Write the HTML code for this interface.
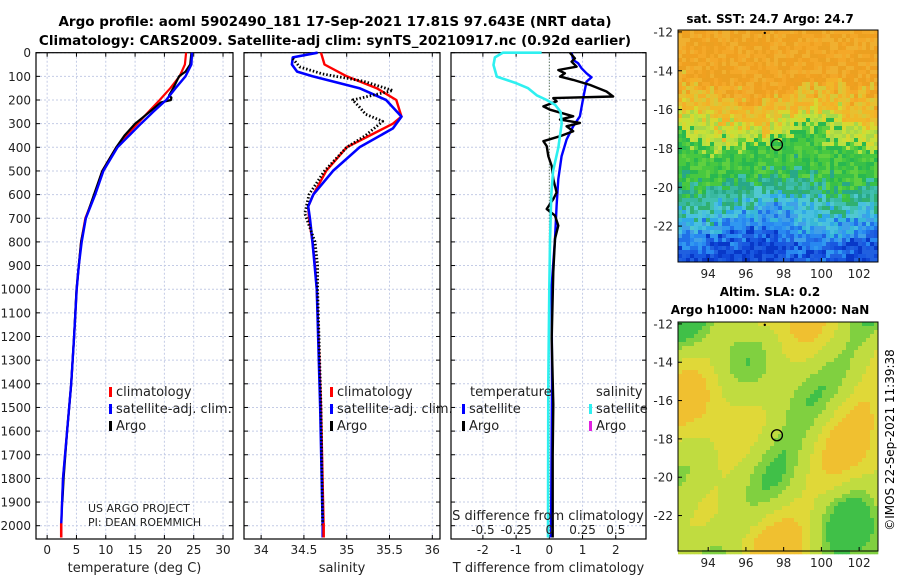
<!DOCTYPE html>
<html><head><meta charset="utf-8"><style>
body{margin:0;background:#fff;width:900px;height:580px;overflow:hidden}
svg{display:block;font-family:"DejaVu Sans","Liberation Sans",sans-serif}
</style></head><body>
<svg id="fig" width="900" height="580" viewBox="0 0 900 580" xmlns="http://www.w3.org/2000/svg">
<text x="335" y="26" text-anchor="middle" font-size="13.5" font-weight="bold">Argo profile: aoml 5902490_181 17-Sep-2021 17.81S 97.643E (NRT data)</text>
<text x="335" y="45" text-anchor="middle" font-size="13.5" font-weight="bold">Climatology: CARS2009. Satellite-adj clim: synTS_20210917.nc (0.92d earlier)</text>
<g id="maps"></g>
<g id="panels"></g>
<text x="770" y="23" text-anchor="middle" font-size="12" font-weight="bold">sat. SST: 24.7 Argo: 24.7</text>
<text x="770" y="296" text-anchor="middle" font-size="12" font-weight="bold">Altim. SLA: 0.2</text>
<text x="770" y="314" text-anchor="middle" font-size="12" font-weight="bold">Argo h1000: NaN h2000: NaN</text>
<text transform="translate(894,440) rotate(-90)" text-anchor="middle" font-size="12">©IMOS 22-Sep-2021 11:39:38</text>
</svg>
<script>
// ---- data ----
const tDepth = [0,50,100,150,200,250,300,350,400,500,600,700,800,900,1000,1200,1400,1600,1800,2000,2050];
const tClim  = [23.7,23.5,22.6,21.0,19.2,17.3,15.4,13.5,11.8,9.4,8.1,6.5,5.8,5.4,5.05,4.6,4.1,3.4,2.7,2.4,2.4];
const tSat   = [24.7,24.6,23.6,21.9,20.3,18.1,16.0,14.0,12.0,9.6,8.2,6.6,5.9,5.4,5.05,4.6,4.1,3.4,2.7,2.4,2.4];
const tArgoDepth = [0,50,80,100,150,180,190,200,210,250,300,350,400,500,600,700,800,900,1000,1200,1400,1600,1800,1900];
const tArgo = [24.6,24.4,23.6,22.5,21.5,20.8,21.2,21.1,19.4,17.5,15.0,13.2,11.8,9.4,8.0,6.6,5.8,5.4,5.0,4.6,4.1,3.4,2.8,2.6];
const sDepth = [0,50,100,150,200,270,300,350,400,500,600,650,700,800,900,1000,1500,2000,2050];
const sClim  = [34.70,34.74,35.0,35.35,35.58,35.64,35.54,35.27,35.0,34.76,34.61,34.55,34.56,34.60,34.63,34.65,34.70,34.73,34.73];
const sSatDepth = [0,20,50,80,100,150,200,270,320,400,500,600,650,700,800,1000,1500,2000,2050];
const sSat = [34.66,34.37,34.36,34.42,34.60,35.15,35.46,35.64,35.54,35.15,34.84,34.61,34.55,34.57,34.60,34.65,34.69,34.72,34.72];
const sArgoDepth = [25,60,90,120,160,200,230,260,290,350,400,500,600,680,800,900,1000,1500,2000];
const sArgo = [34.37,34.45,34.72,35.19,35.54,35.07,35.15,35.22,35.42,35.22,35.0,34.74,34.56,34.51,34.63,34.66,34.66,34.70,34.72];
const dTDepth = [0,24,38,59,73,87,101,115,136,164,185,192,206,227,241,269,283,297,311,332,353,374,395,437,479,535,591,619,661,689,731,787,927,1207,1487,1700,2050];
const dTArgo = [0.62,0.77,0.67,0.82,0.27,0.47,0.32,0.72,1.22,1.72,1.92,0.12,0.22,-0.18,0.02,0.72,0.32,0.92,0.52,0.72,0.32,-0.18,-0.08,-0.03,0.07,0.12,0.22,0.12,-0.08,0.17,0.27,0.17,0.12,0.07,0.12,0.10,0.10];
const dTSatDepth = [0,31,45,66,87,104,122,192,269,311,367,437,535,647,787,983,1400,2050];
const dTSat = [0.67,0.72,0.87,0.97,1.12,1.27,1.12,1.02,0.92,0.72,0.52,0.37,0.27,0.22,0.17,0.07,0.08,0.05];
const dSSatDepth = [0,0,20,52,101,130,150,180,200,220,250,300,350,400,500,600,800,1000,1400,2050];
const dSSat = [-0.058,-0.35,-0.41,-0.42,-0.395,-0.245,-0.16,-0.095,-0.02,0.043,0.085,0.093,0.08,0.068,0.028,0.015,0.005,0,-0.008,-0.01];
const depthTicks = [0,100,200,300,400,500,600,700,800,900,1000,1100,1200,1300,1400,1500,1600,1700,1800,1900,2000];
const tTicks = [0,5,10,15,20,25,30];
const sTicks = [34,34.5,35,35.5,36];
const dTTicks = [-2,-1,0,1,2];
const dSTickLabels = ["-0.5","-0.25","0","0.25","0.5"];
const dSTickVals = [-0.5,-0.25,0,0.25,0.5];
const lonTicks = [94,96,98,100,102];
const latTicks = [-12,-14,-16,-18,-20,-22];
const argoLon = 97.643, argoLat = -17.81;

const NS="http://www.w3.org/2000/svg";
function el(tag,attrs,parent,txt){const e=document.createElementNS(NS,tag);for(const k in attrs)e.setAttribute(k,attrs[k]);if(txt!==undefined)e.textContent=txt;parent.appendChild(e);return e;}
const panels=document.getElementById('panels');
const Y0=52.7, YS=0.2365, YB=539;
const yD=d=>Y0+d*YS;

function panel(name,x0,x1,xMin,xMax,ticks,labels,xlabel){
  const g=el('g',{},panels);
  
  
  const xs=v=>x0+(v-xMin)/(xMax-xMin)*(x1-x0);
  depthTicks.forEach(d=>{
    const l=el('line',{x1:x0,x2:x1,y1:yD(d),y2:yD(d),stroke:'#c4cce6','stroke-dasharray':'2,2','stroke-width':1},g);
    
    
    el('line',{x1:x0,x2:x0+4,y1:yD(d),y2:yD(d),stroke:'#000'},g);
    el('line',{x1:x1,x2:x1-4,y1:yD(d),y2:yD(d),stroke:'#000'},g);
  });
  ticks.forEach((v,i)=>{
    const l=el('line',{x1:xs(v),x2:xs(v),y1:Y0,y2:YB,stroke:'#c4cce6','stroke-dasharray':'2,2'},g);
    
    
    el('line',{x1:xs(v),x2:xs(v),y1:YB,y2:YB-4,stroke:'#000'},g);
    el('line',{x1:xs(v),x2:xs(v),y1:Y0,y2:Y0+4,stroke:'#000'},g);
    const t=el('text',{x:xs(v),y:554,'text-anchor':'middle','font-size':12,fill:'#222'},g,labels[i]);
    
    
  });
  const xl=el('text',{x:(x0+x1)/2,y:572,'text-anchor':'middle','font-size':13,fill:'#222'},g,xlabel);
  
  
  const fr=el('rect',{x:x0,y:Y0,width:x1-x0,height:YB-Y0,fill:'none',stroke:'#000','stroke-width':1.2},g);
  
  
  return {g,xs};
}
function line(p,depths,vals,color,w,dash,name,scale){
  const pts=depths.map((d,i)=>p.xs(vals[i]*(scale||1)).toFixed(1)+','+yD(d).toFixed(1)).join(' ');
  const l=el('polyline',{points:pts,fill:'none',stroke:color,'stroke-width':w,'stroke-linejoin':'round'},p.g);
  if(dash)l.setAttribute('stroke-dasharray',dash);
  
  
}
function legend(g,x,y,color,text,name){
  const m=el('rect',{x:x,y:y-9,width:3,height:10,fill:color},g);
  
  
  const t=el('text',{x:x+7,y:y,'font-size':13,fill:'#222'},g,text);
  
  
}

// panel 1
const p1=panel('temperature-panel',36,233,-1.9,31.7,tTicks,tTicks.map(String),'temperature (deg C)');
depthTicks.forEach(d=>{const t=el('text',{x:31,y:yD(d)+4.5,'text-anchor':'end','font-size':12,fill:'#222'},p1.g,String(d));

});
line(p1,tDepth,tClim,'#f00',2.2,null,'temperature-climatology-line');
line(p1,tArgoDepth,tArgo,'#000',2.2,null,'temperature-argo-line');
line(p1,tDepth,tSat,'#00f',2.4,null,'temperature-satellite-line');
line(p1,[1990,2050],[2.4,2.4],'#f00',2.5,null,'temperature-climatology-bottom');
legend(p1.g,109,396,'#f00','climatology','legend-climatology');
legend(p1.g,109,413,'#00f','satellite-adj. clim.','legend-satellite-adj');
legend(p1.g,109,430,'#000','Argo','legend-argo');
const c1=el('text',{x:88,y:512,'font-size':11,fill:'#222'},p1.g,'US ARGO PROJECT');


const c2=el('text',{x:88,y:526,'font-size':11,fill:'#222'},p1.g,'PI: DEAN ROEMMICH');



// panel 2
const p2=panel('salinity-panel',244,440,33.8,36.09,sTicks,sTicks.map(String),'salinity');
line(p2,sDepth,sClim,'#f00',2.4,null,'salinity-climatology-line');
line(p2,sSatDepth,sSat,'#00f',2.6,null,'salinity-satellite-line');
line(p2,sArgoDepth,sArgo,'#000',2.8,'1.5,2','salinity-argo-line');
line(p2,[1990,2050],[34.73,34.73],'#f00',2.5,null,'salinity-climatology-bottom');
legend(p2.g,330,396,'#f00','climatology','legend-climatology');
legend(p2.g,330,413,'#00f','satellite-adj. clim.','legend-satellite-adj');
legend(p2.g,330,430,'#000','Argo','legend-argo');

// panel 3
const p3=panel('difference-panel',451,646,-2.96,2.91,dTTicks,dTTicks.map(String),'T difference from climatology');
const zl=el('line',{x1:p3.xs(0),x2:p3.xs(0),y1:Y0,y2:YB,stroke:'#3a5a2a','stroke-dasharray':'1,2','stroke-width':1},p3.g);


line(p3,dTSatDepth,dTSat,'#00f',2.4,null,'t-diff-satellite-line');
line(p3,dTDepth,dTArgo,'#000',2.4,null,'t-diff-argo-line');
line(p3,dSSatDepth,dSSat,'#2ef0f0',2.6,null,'s-diff-satellite-line',4);
legend(p3.g,462,413,'#00f','satellite','legend-t-satellite');
legend(p3.g,462,430,'#000','Argo','legend-t-argo');
legend(p3.g,589,413,'#2ef0f0','satellite','legend-s-satellite');
legend(p3.g,589,430,'#e020e0','Argo','legend-s-argo');
const lt=el('text',{x:470,y:396,'font-size':13,fill:'#222'},p3.g,'temperature');


const ls=el('text',{x:596,y:396,'font-size':13,fill:'#222'},p3.g,'salinity');


const st=el('text',{x:548,y:520,'text-anchor':'middle','font-size':13,fill:'#222'},p3.g,'S difference from climatology');


dSTickVals.forEach((v,i)=>{const t=el('text',{x:p3.xs(v*4),y:534,'text-anchor':'middle','font-size':12,fill:'#222'},p3.g,dSTickLabels[i]);

});

// ---- maps ----
const maps=document.getElementById('maps');
function hash(i,j){let h=(i*374761393+j*668265263)^0x5bd1e995;h=(h^(h>>>13))*1274126177;return ((h^(h>>>16))>>>0)/4294967296;}
function mapBox(name,top,bottom,latTop,latBot,colorFn){
  const g=el('g',{},maps);
  
  
  const L=678,R=878,lonMin=92.4,lonMax=103;
  const xs=v=>L+(v-lonMin)/(lonMax-lonMin)*(R-L);
  const ys=v=>top+(latTop-v)/(latTop-latBot)*(bottom-top);
  const cs=4;
  for(let y=top;y<bottom;y+=cs)for(let x=L;x<R;x+=cs){
    el('rect',{x:x,y:y,width:cs+0.3,height:cs+0.3,fill:colorFn((x-L)/(R-L),(y-top)/(bottom-top),x/cs|0,y/cs|0)},g);
  }
  const fr=el('rect',{x:L,y:top,width:R-L,height:bottom-top,fill:'none',stroke:'#000'},g);
  
  
  lonTicks.forEach(v=>{el('line',{x1:xs(v),x2:xs(v),y1:bottom,y2:bottom-4,stroke:'#000'},g);
    const t=el('text',{x:xs(v),y:bottom+16,'text-anchor':'middle','font-size':12,fill:'#222'},g,String(v));
    
    });
  latTicks.forEach(v=>{el('line',{x1:L,x2:L+4,y1:ys(v),y2:ys(v),stroke:'#000'},g);
    const t=el('text',{x:673,y:ys(v)+4.5,'text-anchor':'end','font-size':12,fill:'#222'},g,String(v));
    
    });
  const c=el('circle',{cx:xs(argoLon),cy:ys(argoLat),r:5.5,fill:'none',stroke:'#000','stroke-width':1.3},g);
  
  
  el('circle',{cx:xs(97),cy:ys(-12.05),r:1.2,fill:'#000'},g);
}
function sstColor(u,v,i,j){
  const n=hash(i,j), n2=hash(i>>1,j>>1);
  let t=v+ (n-0.5)*0.07 + (n2-0.5)*0.08 + 0.04*Math.sin(u*9+v*5);
  if(t<0.26)return ['#f0a020','#f4a828','#eca020','#f0b030'][(n*4)|0];
  if(t<0.37)return ['#f0b828','#e8c030','#f4b028','#d8c838'][(n*4)|0];
  if(t<0.46)return ['#b8e040','#c8e038','#a8d848','#d8d830'][(n*4)|0];
  if(t<0.64)return ['#38c048','#48c840','#60d040','#28b850'][(n*4)|0];
  if(t<0.73)return ['#30b070','#38b8a0','#40c0b0','#28a888'][(n*4)|0];
  if(t<0.81)return ['#38b8d8','#48c0e0','#30a8e8','#50c8d0'][(n*4)|0];
  if(t<0.9)return ['#2888f0','#3098f0','#2070e8','#40a0e8'][(n*4)|0];
  return ['#1048d8','#1858e0','#0838c8','#2060e0'][(n*4)|0];
}
function slaColor(u,v){
  const f=Math.sin(u*7.5+1)*Math.cos(v*6+0.5)+0.6*Math.sin(u*13+v*9+2)+0.5*Math.cos(u*4-v*11);
  if(f>1.0)return '#40c048';
  if(f>0.6)return '#80d040';
  if(f>-0.2)return '#c0dc40';
  if(f>-0.9)return '#e0d838';
  return '#f0c030';
}
mapBox('sst-map',30,262,-11.9,-23.85,sstColor);
mapBox('sla-map',322,551,-11.9,-23.85,slaColor);
</script>
</body></html>
